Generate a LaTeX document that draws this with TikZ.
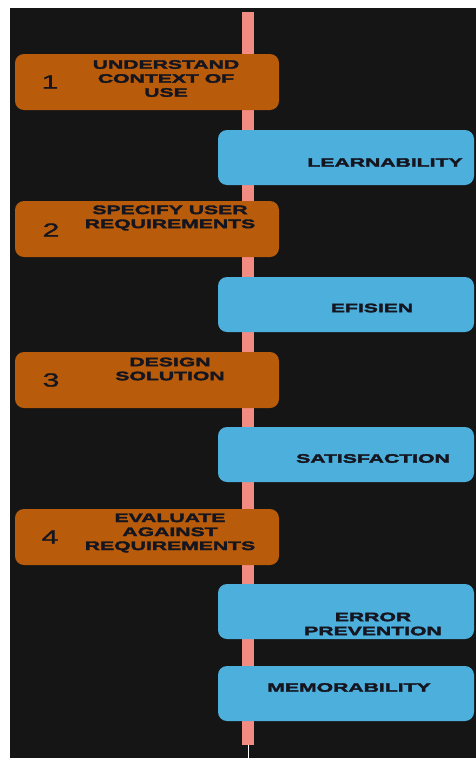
\documentclass[tikz,border=0pt]{standalone}
\usepackage{fontspec}
\newfontfamily\lblfont[FakeStretch=1.72,FakeBold=2.8]{Liberation Sans}
\newfontfamily\numfont[FakeStretch=1.6,FakeBold=1.2]{Liberation Sans}
\definecolor{panel}{HTML}{151515}
\definecolor{stepfill}{HTML}{B85C0C}
\definecolor{qualfill}{HTML}{4DAFDC}
\definecolor{spine}{HTML}{F28B82}
\definecolor{ink}{HTML}{15151F}
\tikzset{
  stepbox/.style={fill=stepfill, rounded corners=9pt, minimum width=264pt, minimum height=56pt, inner sep=0pt},
  qualbox/.style={fill=qualfill, rounded corners=9pt, minimum width=256pt, minimum height=55pt, inner sep=0pt},
  lbl/.style={text=ink, font=\lblfont\bfseries\fontsize{12.3}{14}\selectfont, align=center, inner sep=0pt},
  num/.style={text=ink, font=\numfont\fontsize{19}{21}\selectfont, inner sep=0pt},
}
\begin{document}
\begin{tikzpicture}[x=1pt,y=-1pt]
  % page and dark panel
  \fill[white] (0,0) rectangle (476,758);
  \useasboundingbox (0,0) rectangle (476,758);
  \fill[panel] (10,8) rectangle (476,758);
  % central spine
  \coordinate (top) at (248,12);
  \coordinate (bot) at (248,745);
  \coordinate (tail) at (248,758);
  \draw[spine, line width=12pt] (top) -- (bot);
  \draw[white, line width=0.8pt] (bot) -- (tail);
  % process steps
  \node[stepbox] (s1) at (147,82) {};
  \node[stepbox] (s2) at (147,229) {};
  \node[stepbox] (s3) at (147,380) {};
  \node[stepbox] (s4) at (147,537) {};
  \node[num] (n1) at (50,82) {1};
  \node[num] (n2) at (51,230) {2};
  \node[num] (n3) at (51,380) {3};
  \node[num] (n4) at (50,537) {4};
  \node[lbl] (t1) at (166,78.5) {UNDERSTAND\\CONTEXT OF\\USE};
  \node[lbl] (t2) at (170,218) {SPECIFY USER\\REQUIREMENTS};
  \node[lbl] (t3) at (170,369) {DESIGN\\SOLUTION};
  \node[lbl] (t4) at (170,533) {EVALUATE\\AGAINST\\REQUIREMENTS};
  % usability qualities
  \node[qualbox] (q1) at (346,157.5) {};
  \node[qualbox] (q2) at (346,304.5) {};
  \node[qualbox] (q3) at (346,454.5) {};
  \node[qualbox] (q4) at (346,611.5) {};
  \node[qualbox] (q5) at (346,693.5) {};
  \node[lbl] (u1) at (385,162.5) {LEARNABILITY};
  \node[lbl] (u2) at (372,308) {EFISIEN};
  \node[lbl] (u3) at (373,458.5) {SATISFACTION};
  \node[lbl] (u4) at (373,624) {ERROR\\PREVENTION};
  \node[lbl] (u5) at (349,687.5) {MEMORABILITY};
\end{tikzpicture}
\end{document}
